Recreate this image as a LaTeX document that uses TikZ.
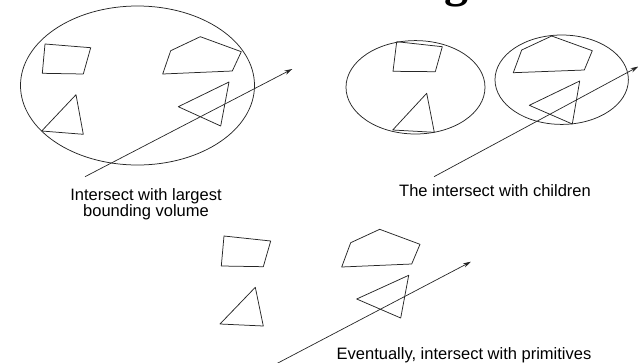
\documentclass[tikz,border=0pt]{standalone}
\usepackage{fontspec}
\setmainfont{Liberation Sans}
\newfontfamily\titlefont{Liberation Serif}
\usetikzlibrary{arrows.meta}
\begin{document}
\begin{tikzpicture}[x=1pt,y=-1pt,
  shapeline/.style={draw=black!85,line width=0.75pt,line join=round},
  ray/.style={draw=black!85,line width=0.7pt,-{Stealth[length=8pt,width=4.5pt]}},
  labeltext/.style={font=\fontsize{16.5}{16.5}\selectfont,align=center,inner sep=0pt,anchor=base}]
\useasboundingbox (0,0) rectangle (638,362);
\clip (0,0) rectangle (638,362);
% cut-off title glyph (only its descender shows at the top edge, as in the reference)
\node[font=\titlefont\bfseries\fontsize{48}{48}\selectfont,anchor=south,inner sep=0pt,outer sep=0pt] (title) at (456,7) {g};

% ---- panel 1: largest bounding volume
\draw[shapeline] (137.5,85.5) ellipse [x radius=117,y radius=79.5];
\draw[shapeline] (45,44) -- (90.7,47.7) -- (83.3,74) -- (42.3,73.3) -- cycle;
\draw[shapeline] (170.7,50.7) -- (200.3,36.7) -- (241.3,51.7) -- (232.3,71) -- (162.7,74) -- cycle;
\draw[shapeline] (76,94.7) -- (83.3,134.3) -- (41.7,131) -- cycle;
\draw[shapeline] (229,82) -- (220.7,126) -- (178.3,106.7) -- cycle;
\coordinate (r1s) at (85,176.7);
\coordinate (r1e) at (292.3,69);
\draw[ray] (r1s) -- (r1e);
\node[labeltext] (l1) at (146,216.5) {Intersect with largest\\bounding volume};

% ---- panel 2: children
\draw[shapeline] (415.5,87.3) ellipse [x radius=69.5,y radius=46.7];
\draw[shapeline] (561.7,79.7) ellipse [x radius=66.7,y radius=44.7];
\draw[shapeline] (396.7,41.7) -- (442.3,46.7) -- (435.3,71.7) -- (393,71.3) -- cycle;
\draw[shapeline] (426.7,93.3) -- (434.3,132.3) -- (392.7,130) -- cycle;
\draw[shapeline] (521.7,50) -- (551.7,36) -- (592.3,50.7) -- (584.3,70) -- (513.3,72.7) -- cycle;
\draw[shapeline] (579.7,81) -- (572.3,124) -- (529.3,105.3) -- cycle;
\coordinate (r2s) at (434,176.7);
\coordinate (r2e) at (638.5,66.5);
\draw[ray] (r2s) -- (r2e);
\node[labeltext] (l2) at (495,196.7) {The intersect with children};

% ---- panel 3: primitives
\draw[shapeline] (224,236) -- (270.7,241) -- (263.3,266.7) -- (221.3,266) -- cycle;
\draw[shapeline] (350.7,242.7) -- (379.7,229.3) -- (420,244.3) -- (411.7,264) -- (341.7,267) -- cycle;
\draw[shapeline] (255.3,287.3) -- (263.3,326) -- (220,324) -- cycle;
\draw[shapeline] (408.7,275.3) -- (400.7,318) -- (356.7,299) -- cycle;
\coordinate (r3s) at (276,364);
\coordinate (r3e) at (471,261.7);
\draw[ray] (r3s) -- (r3e);
\node[labeltext] (l3) at (464,359) {Eventually, intersect with primitives};
\end{tikzpicture}
\end{document}
